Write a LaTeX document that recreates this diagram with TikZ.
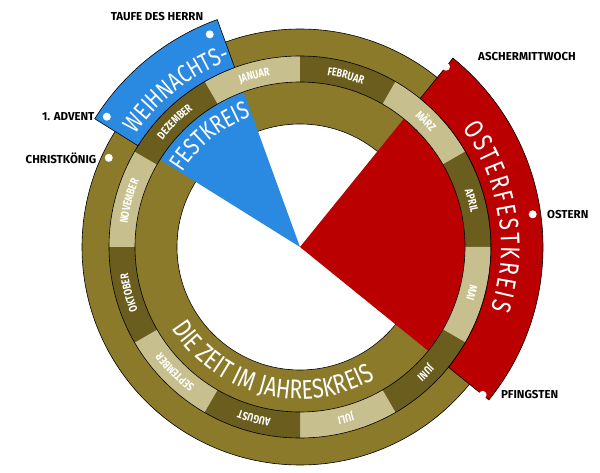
\documentclass[tikz,border=0pt]{standalone}
\usepackage{fontspec}
\setmainfont{Fira Sans}
\newfontfamily\narrowfont[FakeStretch=0.78]{Fira Sans}
\usetikzlibrary{positioning,decorations.text}
\definecolor{olive}{HTML}{8C7A2B}
\definecolor{monthlight}{HTML}{C8BF8E}
\definecolor{monthdark}{HTML}{6A5D1E}
\definecolor{festblue}{HTML}{2A89E0}
\definecolor{festred}{HTML}{BA0000}
\newcommand{\monthfont}{\narrowfont\bfseries\fontsize{11.5}{11.5}\selectfont\color{white}}
\newcommand{\bigfont}{\narrowfont\fontsize{27}{27}\selectfont\color{white}}
\newcommand{\midfont}{\narrowfont\fontsize{25}{25}\selectfont\color{white}}
\tikzstyle{dot} = [circle, fill=white, inner sep=0pt, minimum size=8pt]
\tikzstyle{lbl} = [font=\bfseries\fontsize{11.5}{11.5}\selectfont, inner sep=1pt]
\tikzstyle{ring} = [draw=black, line width=0.6pt]
\begin{document}
\begin{tikzpicture}[x=1pt, y=1pt]
  \useasboundingbox (0,0) rectangle (600,472);
  \begin{scope}[shift={(300,225)}]
  % the olive rings
  \fill [olive, ring] (0,0) circle (218pt);
  \fill [white, ring] (0,0) circle (123pt);
  % inner parts of the two feasts
  \fill [festred] (0,0) -- (-39:165pt) arc[start angle=-39, end angle=51, radius=165pt] -- cycle;
  \fill [festblue] (0,0) -- (110:165pt) arc[start angle=110, end angle=148, radius=165pt] -- cycle;
  % months
  \foreach \s/\n/\c in {90/JANUAR/monthlight, 60/FEBRUAR/monthdark, 30/MÄRZ/monthlight,
      0/APRIL/monthdark, -30/MAI/monthlight, -60/JUNI/monthdark, -90/JULI/monthlight,
      -120/AUGUST/monthdark, -150/SEPTEMBER/monthlight, -180/OKTOBER/monthdark,
      150/NOVEMBER/monthlight, 120/DEZEMBER/monthdark} {
    \fill [\c] (\s:165pt) arc[start angle=\s, end angle=\s+30, radius=165pt]
      -- ({\s+30}:191pt) arc[start angle=\s+30, end angle=\s, radius=191pt] -- cycle;
    \path [decorate, decoration={text along path, text align=center,
      text/.expanded={|\noexpand\monthfont|\n}}]
      ({\s+30}:174pt) arc[start angle=\s+30, end angle=\s, radius=174pt];
  }
  \draw [ring] (0,0) circle (165pt) (0,0) circle (191pt);
  % outer bands
  \fill [festred, ring] (-39:191pt) arc[start angle=-39, end angle=51, radius=191pt]
    -- (51:243pt) arc[start angle=51, end angle=-39, radius=243pt] -- cycle;
  \fill [festblue, ring] (110:191pt) arc[start angle=110, end angle=148, radius=191pt]
    -- (148:242pt) arc[start angle=148, end angle=110, radius=242pt] -- cycle;
  % curved titles
  \path [decorate, decoration={text along path, text align=center,
    text={|\midfont|WEIHNACHTS-}}] (150:199pt) arc[start angle=150, end angle=106, radius=199pt];
  \path [decorate, decoration={text along path, text align=center,
    text={|\midfont|FESTKREIS}}] (154:139pt) arc[start angle=154, end angle=104, radius=139pt];
  \path [decorate, decoration={text along path, text align=fit to path,
    text={|\bigfont|OSTERFESTKREIS}}] (36:201pt) arc[start angle=36, end angle=-18, radius=201pt];
  \path [decorate, decoration={text along path, text align=center,
    text={|\bigfont|DIE ZEIT IM JAHRESKREIS}}] (-172:152pt) arc[start angle=-172, end angle=-36, radius=152pt];
  % dots and labels
  \node [dot] (advent) at (146:233pt) {};
  \node [dot] (taufe) at (113:231pt) {};
  \node [dot] (christ) at (155:211pt) {};
  \node [dot] (ascher) at (51:232pt) {};
  \node [dot] (ostern) at (8:235pt) {};
  \node [dot] (pfingsten) at (-39:235pt) {};
  \end{scope}
  \node [lbl, left=7pt of advent] (adventlbl) {1. ADVENT};
  \node [lbl, left=7pt of christ] (christlbl) {CHRISTKÖNIG};
  \node [lbl, right=9pt of ostern] (osternlbl) {OSTERN};
  \node [lbl, right=13pt of pfingsten] (pfingstenlbl) {PFINGSTEN};
  \node [lbl] (taufelbl) at (157,455) {TAUFE DES HERRN};
  \node [lbl] (ascherlbl) at (527,415) {ASCHERMITTWOCH};
\end{tikzpicture}
\end{document}
